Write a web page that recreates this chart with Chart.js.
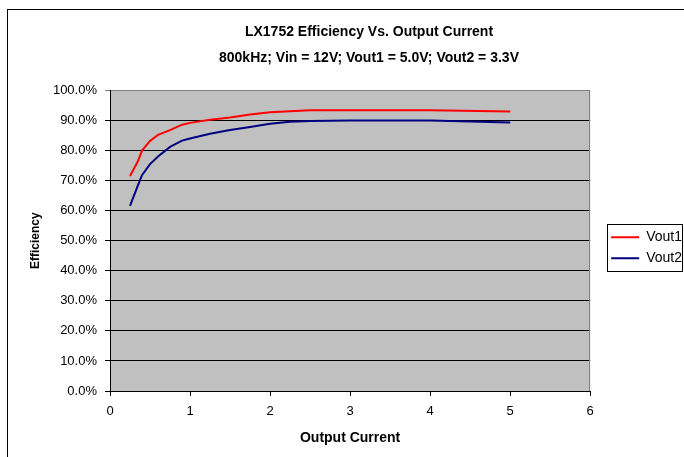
<!DOCTYPE html>
<html lang="en">
<head>
    <meta charset="UTF-8">
    <title>LX1752 Efficiency</title>
    <script src="https://cdn.jsdelivr.net/npm/chart.js"></script>
    <style>
        body {
            margin: 0;
            overflow: hidden;
            background: #fff;
        }
        #frame {
            position: absolute;
            left: 7px;
            top: 9px;
            width: 720px;
            height: 500px;
            border: 1px solid #000;
        }
        #chart-container {
            position: absolute;
            left: 0;
            top: 0;
            width: 684px;
            height: 457px;
        }
    </style>
</head>
<body>
    <div id="frame"></div>
    <div id="chart-container">
        <canvas id="effChart"></canvas>
    </div>

    <script>
        // output current (A) and efficiency (%)
        const outputCurrent = [0.25, 0.35, 0.4, 0.5, 0.6, 0.75, 0.9, 1.0, 1.25, 1.5, 1.75, 2.0, 2.25, 2.5, 3.0, 4.0, 5.0];
        const vout1Eff = [71.5, 76.5, 80.0, 83.2, 85.2, 86.8, 88.6, 89.2, 90.2, 91.0, 92.0, 92.7, 93.1, 93.4, 93.4, 93.4, 93.0];
        const vout2Eff = [61.6, 68.5, 71.8, 75.5, 78.0, 81.2, 83.3, 84.0, 85.6, 86.8, 87.8, 88.9, 89.6, 89.8, 90.0, 90.0, 89.3];
        const seriesNames = ['Vout1', 'Vout2'];
        const titleLines = ['LX1752 Efficiency Vs. Output Current', '800kHz; Vin = 12V; Vout1 = 5.0V; Vout2 = 3.3V'];

        const toPoints = (ys) => outputCurrent.map((x, i) => ({x: x, y: ys[i]}));

        Chart.defaults.font.family = '"Liberation Sans", Arial, sans-serif';
        Chart.defaults.color = '#000';

        // grey plot area, shifted title/legend, legend frame
        const excelLook = {
            id: 'excelLook',
            afterLayout(chart) {
                const t = chart.titleBlock;
                t.left = 54;
                t.right = 684;
                const lg = chart.legend;
                lg.left += 14;
                lg.right += 14;
                lg.top += 7;
                lg.bottom += 7;
            },
            beforeDraw(chart) {
                const {ctx, chartArea} = chart;
                ctx.save();
                ctx.fillStyle = '#c0c0c0';
                ctx.fillRect(chartArea.left, chartArea.top, chartArea.right - chartArea.left, chartArea.bottom - chartArea.top);
                ctx.restore();
            },
            afterDraw(chart) {
                const {ctx, chartArea} = chart;
                ctx.save();
                ctx.strokeStyle = '#808080';
                ctx.lineWidth = 1;
                ctx.beginPath();
                ctx.moveTo(Math.round(chartArea.right) - 0.5, chartArea.top);
                ctx.lineTo(Math.round(chartArea.right) - 0.5, chartArea.bottom);
                ctx.stroke();

                const boxes = chart.legend.legendHitBoxes;
                if (boxes && boxes.length) {
                    const l = Math.min(...boxes.map(b => b.left)) - 4;
                    const t = Math.min(...boxes.map(b => b.top)) - 6;
                    const b = Math.max(...boxes.map(b => b.top + b.height)) + 6;
                    ctx.strokeStyle = '#000';
                    ctx.strokeRect(Math.round(l) + 0.5, Math.round(t) + 0.5, 683 - Math.round(l) - 1, Math.round(b - t));
                }
                ctx.restore();
            }
        };

        const effChart = new Chart(document.getElementById('effChart'), {
            type: 'line',
            data: {
                datasets: [{
                    label: seriesNames[0],
                    data: toPoints(vout1Eff),
                    borderColor: '#ff0000',
                    backgroundColor: '#ff0000',
                    borderWidth: 2,
                    pointRadius: 0,
                    tension: 0
                }, {
                    label: seriesNames[1],
                    data: toPoints(vout2Eff),
                    borderColor: '#000080',
                    backgroundColor: '#000080',
                    borderWidth: 2,
                    pointRadius: 0,
                    tension: 0
                }]
            },
            options: {
                responsive: true,
                maintainAspectRatio: false,
                animation: false,
                layout: {
                    padding: {left: 8, right: 6, top: 0, bottom: 10}
                },
                plugins: {
                    title: {
                        display: true,
                        text: titleLines,
                        font: {size: 14, weight: 'bold', lineHeight: 1.8},
                        color: '#000',
                        padding: {top: 20, bottom: 20}
                    },
                    legend: {
                        position: 'right',
                        fullSize: false,
                        labels: {
                            usePointStyle: true,
                            pointStyle: 'line',
                            pointStyleWidth: 28,
                            padding: 7,
                            font: {size: 14},
                            color: '#000'
                        }
                    },
                    tooltip: {enabled: false}
                },
                scales: {
                    x: {
                        type: 'linear',
                        min: 0,
                        max: 6,
                        ticks: {stepSize: 1, padding: 8, font: {size: 13}},
                        grid: {drawOnChartArea: false, drawTicks: true, tickLength: 5, color: '#000'},
                        border: {color: '#000'},
                        title: {
                            display: true,
                            text: 'Output Current',
                            font: {size: 14, weight: 'bold'},
                            padding: {top: 0, bottom: 0}
                        },
                        afterFit(scale) {
                            scale.height = 56;
                        }
                    },
                    y: {
                        min: 0,
                        max: 100,
                        ticks: {
                            stepSize: 10,
                            padding: 8,
                            font: {size: 13},
                            callback: (v) => v.toFixed(1) + '%'
                        },
                        grid: {
                            tickLength: 5,
                            color: (ctx) => (ctx.tick && ctx.tick.value === 100) ? '#808080' : '#000'
                        },
                        border: {color: '#000'},
                        title: {
                            display: true,
                            text: 'Efficiency',
                            font: {size: 12, weight: 'bold'},
                            padding: {top: 20, bottom: 0}
                        },
                        afterFit(scale) {
                            scale.width = 102;
                        }
                    }
                }
            },
            plugins: [excelLook]
        });
    </script>
</body>
</html>
